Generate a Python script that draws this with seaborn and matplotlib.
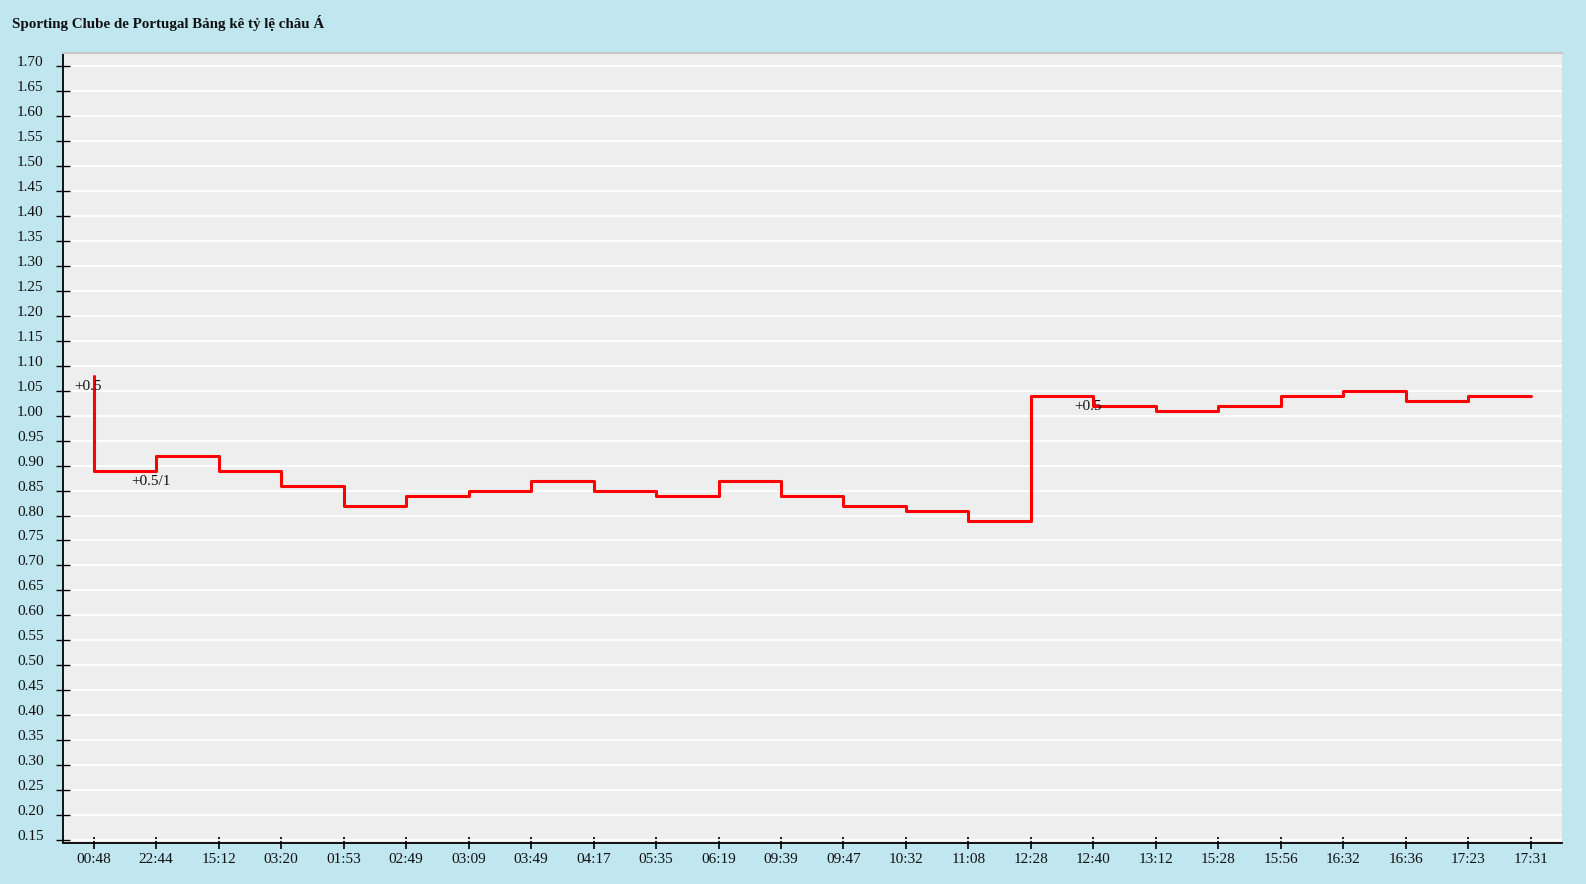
import pandas as pd
import numpy as np
import matplotlib
matplotlib.use("Agg")
import matplotlib.pyplot as plt
import seaborn as sns

# Dữ liệu
times = ['00:48', '22:44', '15:12', '03:20', '01:53', '02:49', '03:09', '03:49',
         '04:17', '05:35', '06:19', '09:39', '09:47', '10:32', '11:08', '12:28',
         '12:40', '13:12', '15:28', '15:56', '16:32', '16:36', '17:23', '17:31']
odds = [1.08, 0.89, 0.92, 0.89, 0.86, 0.82, 0.84, 0.85,
        0.87, 0.85, 0.84, 0.87, 0.84, 0.82, 0.81, 0.79,
        1.04, 1.02, 1.01, 1.02, 1.04, 1.05, 1.03, 1.04]
handicap_idx = [0, 1, 16]
handicap_labels = ['+0.5', '+0.5/1', '+0.5']
yticks = np.round(np.arange(0.15, 1.7001, 0.05), 2)

BG = '#C0E6F0'
PLOT_BG = '#EEEEEE'
FS = 11

sns.set_style('white')
plt.rcParams['font.family'] = ['Liberation Serif', 'DejaVu Serif']

df = pd.DataFrame({'pos': np.arange(len(times)), 'odds': odds})

fig = plt.figure(figsize=(15.86, 8.84), dpi=100, facecolor=BG)
ax = fig.add_axes([62.5 / 1586, 1 - 842.5 / 884, (1562 - 62.5) / 1586, (842.5 - 53.3) / 884])
ax.set_facecolor(PLOT_BG)

sns.lineplot(data=df, x='pos', y='odds', ax=ax, color='#FF0000', linewidth=2.2,
             drawstyle='steps-pre', zorder=3)

# nhãn kèo châu Á tại các điểm thay đổi
for i, lab in zip(handicap_idx, handicap_labels):
    ax.annotate(lab, (df['pos'][i], df['odds'][i]), xytext=(-4, -8),
                textcoords='offset points', ha='center', va='center',
                fontsize=FS, color='#111111', zorder=4)

ax.set_xlim(-0.5, len(times) - 0.5)
ax.set_ylim(0.1456, 1.725)
ax.set_xticks(df['pos'])
ax.set_xticklabels(times)
ax.set_yticks(yticks)
ax.set_yticklabels([f'{v:.2f}' for v in yticks])
ax.set_xlabel('')
ax.set_ylabel('')

ax.yaxis.grid(True, color='white', linewidth=1.3, zorder=0)
ax.xaxis.grid(False)
ax.set_axisbelow(True)

for side in ['left', 'bottom']:
    ax.spines[side].set_color('black')
    ax.spines[side].set_linewidth(1.3)
ax.spines['right'].set_visible(False)
ax.spines['top'].set_color('#C8C8C8')
ax.spines['top'].set_linewidth(1.5)

ax.tick_params(axis='y', direction='inout', length=10, width=1, color='black',
               labelsize=FS, labelcolor='#111111', pad=8.5, left=True)
ax.tick_params(axis='x', direction='inout', length=9, width=1.2, color='black',
               labelsize=FS, labelcolor='#111111', pad=3, bottom=True)
for lbl in ax.get_yticklabels():
    lbl.set_verticalalignment('baseline')

fig.text(12 / 1586, 1 - 23 / 884, 'Sporting Clube de Portugal Bảng kê tỷ lệ châu Á',
         fontsize=10.8, fontweight='bold', color='#111111', va='center', ha='left')

fig.savefig('out.png', dpi=100, facecolor=BG)
